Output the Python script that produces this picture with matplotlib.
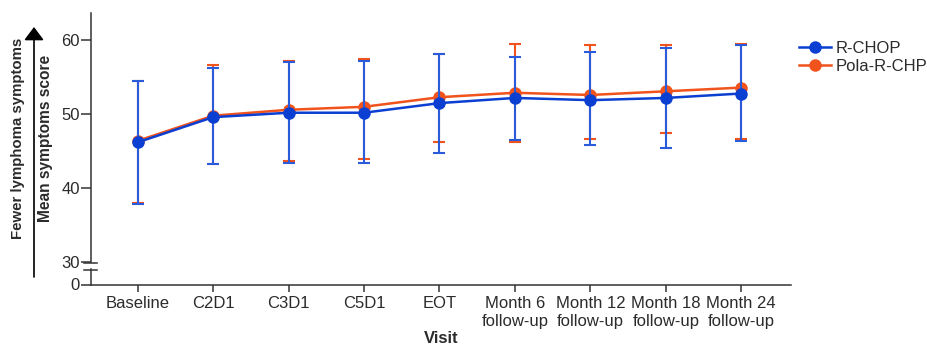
"""
Mean lymphoma symptoms score by visit, R-CHOP vs Pola-R-CHP (mean with error bars),
drawn on a broken y axis that jumps from 0 to 30.
"""

import matplotlib

matplotlib.use("Agg")
import matplotlib.pyplot as plt
from matplotlib.lines import Line2D
from matplotlib.patches import FancyArrowPatch


# Step 0. Data

visits = [
    "Baseline", "C2D1", "C3D1", "C5D1", "EOT",
    "Month 6\nfollow-up", "Month 12\nfollow-up", "Month 18\nfollow-up", "Month 24\nfollow-up",
]

rchop_mean = [46.2, 49.6, 50.2, 50.2, 51.5, 52.2, 51.9, 52.2, 52.8]
rchop_lower = [37.9, 43.2, 43.4, 43.4, 44.8, 46.5, 45.8, 45.4, 46.4]
rchop_upper = [54.5, 56.3, 57.0, 57.2, 58.1, 57.8, 58.4, 58.9, 59.4]

pola_mean = [46.4, 49.8, 50.6, 51.0, 52.3, 52.9, 52.6, 53.1, 53.6]
pola_lower = [38.0, 43.3, 43.7, 43.9, 46.2, 46.2, 46.7, 47.5, 46.7]
pola_upper = [54.5, 56.6, 57.2, 57.5, 58.1, 59.5, 59.3, 59.3, 59.5]

y_ticks_upper = [30, 40, 50, 60]
y_ticks_lower = [0]


# Step 1. Layout (pixel positions on a 927 x 347 canvas)

W, H = 927, 347
AXIS_LEFT, AXIS_RIGHT = 91, 791
UPPER_TOP, UPPER_BOTTOM = 13, 262
LOWER_TOP, LOWER_BOTTOM = 269, 284.5

BLUE = "#0B3FD2"
BLUE_BAR = "#2A5BDB"
ORANGE = "#F0531C"
AXIS_COLOR = "#333333"
TEXT_COLOR = "#2B2B2B"

plt.rcParams["font.family"] = ["Liberation Sans", "DejaVu Sans"]
plt.rcParams["font.size"] = 12


def fx(px):
    return px / W


def fy(py):
    return 1 - py / H


def style_axis(ax):
    for side in ("top", "right"):
        ax.spines[side].set_visible(False)
    for side in ("left", "bottom"):
        ax.spines[side].set_color(AXIS_COLOR)
        ax.spines[side].set_linewidth(1.1)
    ax.tick_params(colors=AXIS_COLOR, labelcolor=TEXT_COLOR, width=1.1)
    ax.tick_params(axis="y", length=7, pad=1)
    ax.tick_params(axis="x", length=5, pad=3)
    ax.set_xlim(-0.62, 8.66)
    ax.patch.set_alpha(0)


fig = plt.figure(figsize=(W / 100, H / 100), dpi=100)

ax = fig.add_axes([fx(AXIS_LEFT), fy(UPPER_BOTTOM), fx(AXIS_RIGHT - AXIS_LEFT),
                   (UPPER_BOTTOM - UPPER_TOP) / H])
ax_low = fig.add_axes([fx(AXIS_LEFT), fy(LOWER_BOTTOM), fx(AXIS_RIGHT - AXIS_LEFT),
                       (LOWER_BOTTOM - LOWER_TOP) / H])

style_axis(ax)
style_axis(ax_low)

ax.spines["bottom"].set_visible(False)
ax.set_xticks([])
ax.set_ylim(30, 30 + (UPPER_BOTTOM - UPPER_TOP) / 7.39)
ax.set_yticks(y_ticks_upper)

ax_low.set_ylim(0, 2)
ax_low.set_yticks(y_ticks_lower)
x_positions = list(range(len(visits)))
ax_low.set_xticks(x_positions)
ax_low.set_xticklabels(visits, linespacing=1.25)
ax_low.set_xlabel("Visit", fontweight="bold", labelpad=2, color=TEXT_COLOR)


# Step 2. Series: Pola-R-CHP underneath, R-CHOP on top

def draw_series(mean, lower, upper, color, bar_color, label, z):
    yerr = [[m - lo for m, lo in zip(mean, lower)], [hi - m for m, hi in zip(mean, upper)]]
    ax.errorbar(x_positions, mean, yerr=yerr, fmt="none", ecolor=bar_color,
                elinewidth=1.5, capsize=4, capthick=1.5, zorder=z)
    line, = ax.plot(x_positions, mean, color=color, lw=1.8, marker="o", markersize=9,
                    markeredgewidth=0, label=label, zorder=z + 0.5)
    return line


pola_line = draw_series(pola_mean, pola_lower, pola_upper, ORANGE, ORANGE, "Pola-R-CHP", 2)
rchop_line = draw_series(rchop_mean, rchop_lower, rchop_upper, BLUE, BLUE_BAR, "R-CHOP", 3)

fig.legend(handles=[rchop_line, pola_line], loc="upper left",
           bbox_to_anchor=(fx(799), fy(41)), frameon=False, handlelength=1.9,
           handletextpad=0.3, borderpad=0, borderaxespad=0, labelspacing=0.2,
           labelcolor=TEXT_COLOR)


# Step 3. Axis break marks, y-axis titles and direction arrow

for py in (262.5, 269.5):
    fig.add_artist(Line2D([fx(84), fx(97)], [fy(py), fy(py)], transform=fig.transFigure,
                          color=AXIS_COLOR, lw=1.1))

fig.text(fx(18), fy(138), "Fewer lymphoma symptoms", rotation=90, ha="center", va="center",
         fontweight="bold", fontsize=10.8, color=TEXT_COLOR)
fig.text(fx(46), fy(138), "Mean symptoms score", rotation=90, ha="center", va="center",
         fontweight="bold", fontsize=11.2, color=TEXT_COLOR)
fig.add_artist(FancyArrowPatch((fx(34), fy(277)), (fx(34), fy(27)), transform=fig.transFigure,
                               arrowstyle="-|>,head_length=0.8,head_width=0.6",
                               mutation_scale=10, color="black", lw=1.2,
                               shrinkA=0, shrinkB=0))

fig.savefig("out.png", dpi=100)
